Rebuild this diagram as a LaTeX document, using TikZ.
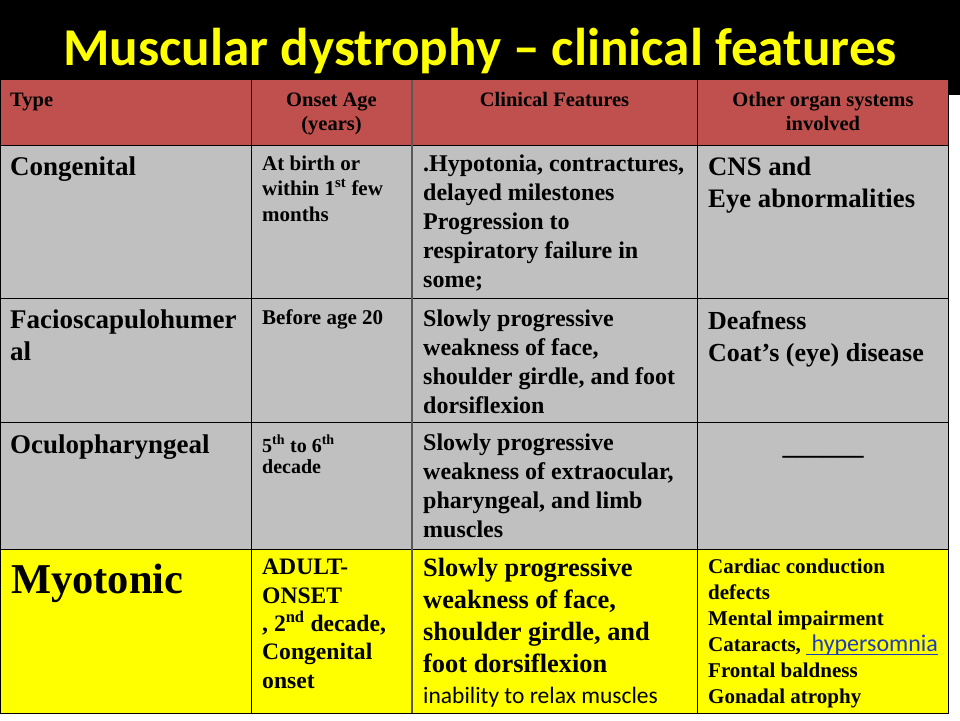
\documentclass[tikz,border=0pt]{standalone}
\usepackage{fontspec}
\setmainfont{Liberation Serif}
\newfontfamily\calfont{Carlito}
\definecolor{hdr}{HTML}{C0504D}
\definecolor{rowgray}{HTML}{C0C0C0}
\definecolor{ylw}{HTML}{FFFF00}
\definecolor{linkblue}{HTML}{1F3CC0}
\newcommand\linkul[1]{\setbox0\hbox{#1}\rlap{\rule[-4pt]{\wd0}{1.1pt}}\box0}
\begin{document}
\begin{tikzpicture}[x=1pt,y=-1pt,
  cellL/.style 2 args={anchor=base west,inner sep=0pt,align=left,font=\bfseries\fontsize{#1}{#2}\selectfont},
  cellC/.style 2 args={anchor=base,inner sep=0pt,align=center,font=\bfseries\fontsize{#1}{#2}\selectfont},
  gridline/.style={draw=black,line width=1pt}]
\useasboundingbox (0,0) rectangle (960,720);
\fill[white] (0,0) rectangle (960,720);
\fill[black] (0,0) rectangle (960,95);
% table backgrounds
\fill[hdr] (0,80) rectangle (949,145);
\fill[rowgray] (0,145) rectangle (949,549);
\fill[ylw] (0,549) rectangle (949,713);
% grid
\foreach \yy in {145,298,422,549,713} \draw[gridline] (0,\yy) -- (949,\yy);
\foreach \xx in {0.5,251,697,948.5} \draw[gridline] (\xx,80) -- (\xx,713);
\draw[line width=1.6pt,draw=black!65] (412,80) -- (412,713);
% title
\node[anchor=base,inner sep=0pt,text=ylw,font=\calfont\bfseries\fontsize{53.2}{60}\selectfont] (title) at (480,65) {Muscular dystrophy – clinical features};
% header (y = baseline of last line)
\node[cellL={20.5}{24}] (hType) at (10,106) {Type};
\node[cellC={20.5}{24}] (hOnset) at (331.5,130) {Onset Age\\(years)};
\node[cellC={20.5}{24}] (hClin) at (554.5,106) {Clinical Features};
\node[cellC={20.5}{24}] (hOther) at (823,130) {Other organ systems\\involved};
% row 1
\node[cellL={27}{32}] (r1a) at (10,175) {Congenital};
\node[cellL={21}{25.5}] (r1b) at (262,221) {At birth or\\within 1\textsuperscript{st} few\\months};
\node[cellL={24}{29}] (r1c) at (423,287) {.Hypotonia, contractures,\\delayed milestones\\Progression to\\respiratory failure in\\some;};
\node[cellL={26.7}{32}] (r1d) at (708,207) {CNS and\\Eye abnormalities};
% row 2
\node[cellL={27}{32}] (r2a) at (10,360) {Facioscapulohumer\\al};
\node[cellL={21}{25.5}] (r2b) at (262,324) {Before age 20};
\node[cellL={24}{29}] (r2c) at (423,413) {Slowly progressive\\weakness of face,\\shoulder girdle, and foot\\dorsiflexion};
\node[cellL={26}{32}] (r2d) at (708,361) {Deafness\\Coat’s (eye) disease};
% row 3
\node[cellL={27}{32}] (r3a) at (10,453) {Oculopharyngeal};
\node[cellL={20}{21.5}] (r3b) at (262,473.5) {5\textsuperscript{th} to 6\textsuperscript{th}\\decade};
\node[cellL={24}{29}] (r3c) at (423,537) {Slowly progressive\\weakness of extraocular,\\pharyngeal, and limb\\muscles};
\node[cellC={27}{32}] (r3d) at (823,454) {\_\_\_\_\_\_};
% row 4
\node[cellL={42.5}{50}] (r4a) at (11,593) {Myotonic};
\node[cellL={23.6}{28.3}] (r4b) at (262,688) {ADULT-\\ONSET\\, 2\textsuperscript{nd} decade,\\Congenital\\onset};
\node[cellL={26.4}{32}] (r4c) at (423,672) {Slowly progressive\\weakness of face,\\shoulder girdle, and\\foot dorsiflexion};
\node[anchor=base west,inner sep=0pt,font=\calfont\fontsize{23.5}{28}\selectfont] (r4c2) at (423,703) {inability to relax muscles};
\node[cellL={21}{26}] (r4d) at (708,703) {Cardiac conduction\\defects\\Mental impairment\\Cataracts,~{\calfont\mdseries\fontsize{24}{26}\selectfont\color{linkblue}\linkul{\ hypersomnia}}\\Frontal baldness\\Gonadal atrophy};
\end{tikzpicture}
\end{document}
